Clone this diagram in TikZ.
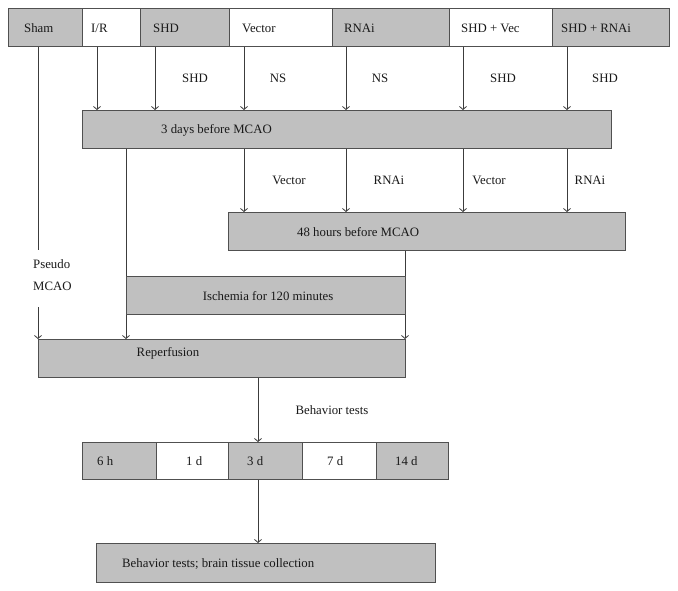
\documentclass[tikz,border=0pt]{standalone}
\usepackage{fontspec}
\setmainfont{Liberation Serif}
\usetikzlibrary{arrows.meta,backgrounds}
\definecolor{boxgray}{RGB}{192,192,192}
\definecolor{edgegray}{RGB}{80,80,80}
\definecolor{linegray}{RGB}{60,60,60}
\begin{document}
\begin{tikzpicture}[x=1pt,y=-1pt,
  box/.style={draw=edgegray,line width=0.9pt,inner sep=0pt,anchor=north west},
  gbox/.style={box,fill=boxgray},
  wbox/.style={box,fill=white},
  txt/.style={font=\fontsize{12.8}{15}\selectfont,inner sep=0pt,text=black!90},
  arr/.style={draw=linegray,line width=0.8pt,-{Straight Barb[length=3pt,width=7pt]}},
  ln/.style={draw=linegray,line width=0.8pt}]
\useasboundingbox (0,0) rectangle (678,590);

% top row
\node[gbox,minimum width=74pt,minimum height=38pt] (sham) at (8,8) {};
\node[wbox,minimum width=58pt,minimum height=38pt] (ir) at (82,8) {};
\node[gbox,minimum width=89pt,minimum height=38pt] (shd) at (140,8) {};
\node[wbox,minimum width=103pt,minimum height=38pt] (vec) at (229,8) {};
\node[gbox,minimum width=117pt,minimum height=38pt] (rnai) at (332,8) {};
\node[wbox,minimum width=103pt,minimum height=38pt] (shdvec) at (449,8) {};
\node[gbox,minimum width=117pt,minimum height=38pt] (shdrnai) at (552,8) {};
\node[txt,anchor=west] (tsham) at (24,28) {Sham};
\node[txt,anchor=west] (tir) at (91,28) {I/R};
\node[txt,anchor=west] (tshd) at (153,28) {SHD};
\node[txt,anchor=west] (tvec) at (242,28) {Vector};
\node[txt,anchor=west] (trnai) at (344,28) {RNAi};
\node[txt,anchor=west] (tshdvec) at (461,28) {SHD + Vec};
\node[txt,anchor=west] (tshdrnai) at (561,28) {SHD + RNAi};

% main boxes
\node[gbox,minimum width=529pt,minimum height=38pt] (three) at (82,110) {};
\node[txt,anchor=west] (tthree) at (161,130) {3 days before MCAO};
\node[gbox,minimum width=397pt,minimum height=38pt] (h48) at (228,212) {};
\node[txt,anchor=west] (th48) at (297,232) {48 hours before MCAO};
\node[gbox,minimum width=279pt,minimum height=38pt] (isch) at (126,276) {};
\node[txt] (tisch) at (268,296) {Ischemia for 120 minutes};
\node[gbox,minimum width=367pt,minimum height=38pt] (rep) at (38,339) {};
\node[txt] (trep) at (168,353) {Reperfusion};

% timeline
\node[gbox,minimum width=74pt,minimum height=37pt] (c1) at (82,442) {};
\node[wbox,minimum width=72pt,minimum height=37pt] (c2) at (156,442) {};
\node[gbox,minimum width=74pt,minimum height=37pt] (c3) at (228,442) {};
\node[wbox,minimum width=74pt,minimum height=37pt] (c4) at (302,442) {};
\node[gbox,minimum width=72pt,minimum height=37pt] (c5) at (376,442) {};
\node[txt,anchor=west] (t1) at (97,461) {6 h};
\node[txt,anchor=west] (t2) at (186,461) {1 d};
\node[txt,anchor=west] (t3) at (247,461) {3 d};
\node[txt,anchor=west] (t4) at (327,461) {7 d};
\node[txt,anchor=west] (t5) at (395,461) {14 d};

\node[gbox,minimum width=339pt,minimum height=39pt] (final) at (96,543) {};
\node[txt,anchor=west] (tfinal) at (122,564) {Behavior tests; brain tissue collection};

% edge labels
\node[txt] (l1) at (195,78) {SHD};
\node[txt] (l2) at (278,78) {NS};
\node[txt] (l3) at (380,78) {NS};
\node[txt] (l4) at (503,78) {SHD};
\node[txt] (l5) at (605,78) {SHD};
\node[txt] (m1) at (289,180) {Vector};
\node[txt] (m2) at (389,180) {RNAi};
\node[txt] (m3) at (489,180) {Vector};
\node[txt] (m4) at (590,180) {RNAi};
\node[txt] (bt) at (332,410) {Behavior tests};
\node[fill=white,inner sep=0pt,minimum width=49pt,minimum height=57pt,anchor=north west] (pseudo) at (24,250) {};
\node[txt,anchor=west] (tp1) at (33,264) {Pseudo};
\node[txt,anchor=west] (tp2) at (33,286) {MCAO};

\begin{pgfonlayer}{background}
\draw[arr] ([xshift=30pt]sham.south west) -- ([xshift=30pt]sham.south west |- rep.north);
\draw[arr] ([xshift=15pt]ir.south west) -- ([xshift=15pt]ir.south west |- three.north);
\draw[arr] ([xshift=15pt]shd.south west) -- ([xshift=15pt]shd.south west |- three.north);
\draw[arr] ([xshift=15pt]vec.south west) -- ([xshift=15pt]vec.south west |- three.north);
\draw[arr] ([xshift=14pt]rnai.south west) -- ([xshift=14pt]rnai.south west |- three.north);
\draw[arr] ([xshift=14pt]shdvec.south west) -- ([xshift=14pt]shdvec.south west |- three.north);
\draw[arr] ([xshift=15pt]shdrnai.south west) -- ([xshift=15pt]shdrnai.south west |- three.north);
\draw[arr] ([xshift=162pt]three.south west) -- ([xshift=162pt]three.south west |- h48.north);
\draw[arr] ([xshift=264pt]three.south west) -- ([xshift=264pt]three.south west |- h48.north);
\draw[arr] ([xshift=381pt]three.south west) -- ([xshift=381pt]three.south west |- h48.north);
\draw[arr] ([xshift=485pt]three.south west) -- ([xshift=485pt]three.south west |- h48.north);
\draw[arr] ([xshift=44pt]three.south west) -- ([xshift=44pt]three.south west |- rep.north);
\draw[arr] ([xshift=177pt]h48.south west) -- ([xshift=177pt]h48.south west |- rep.north);
\draw[arr] ([xshift=220pt]rep.south west) -- ([xshift=220pt]rep.south west |- c3.north);
\draw[arr] ([xshift=30pt]c3.south west) -- ([xshift=30pt]c3.south west |- final.north);
\end{pgfonlayer}
\end{tikzpicture}
\end{document}
